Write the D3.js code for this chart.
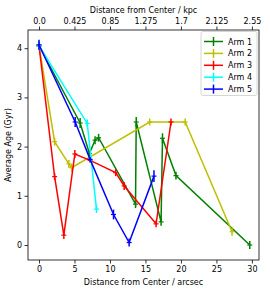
<!DOCTYPE html>
<html><head><meta charset="utf-8">
<script src="https://cdn.jsdelivr.net/npm/d3@7"></script>
<style>
body{margin:0;background:#fff;}
text{font-family:"DejaVu Sans",sans-serif;}
</style></head>
<body><svg id="c" width="270" height="292"></svg>
<script>
const armNames = ["Arm 1","Arm 2","Arm 3","Arm 4","Arm 5"];
const armColors = ["#008000","#bfbf00","#ff0000","#00ffff","#0000ff"];
const arm1X = [0, 5.8, 7.1, 7.9, 8.4, 13.6, 13.7, 17.2, 17.4, 19.3, 29.7];
const arm1Y = [4.05, 2.48, 1.86, 2.13, 2.18, 0.83, 2.5, 0.47, 2.17, 1.41, 0.0];
const arm1E = [0.08, 0.1, 0.07, 0.08, 0.08, 0.08, 0.1, 0.08, 0.1, 0.08, 0.08];
const arm2X = [0, 2.2, 4.2, 4.6, 15.6, 20.6, 27.2];
const arm2Y = [4.05, 2.1, 1.65, 1.57, 2.5, 2.5, 0.27];
const arm2E = [0.08, 0.08, 0.08, 0.08, 0.07, 0.07, 0.08];
const arm3X = [0, 2.2, 3.5, 5.05, 7.2, 10.8, 12.0, 16.5, 18.6];
const arm3Y = [4.05, 1.39, 0.2, 1.85, 1.72, 1.47, 1.2, 0.43, 2.5];
const arm3E = [0.08, 0.07, 0.08, 0.08, 0.05, 0.07, 0.08, 0.07, 0.07];
const arm4X = [0, 6.8, 8.1];
const arm4Y = [4.05, 2.47, 0.73];
const arm4E = [0.08, 0.08, 0.08];
const arm5X = [0, 5.1, 7.2, 10.5, 12.7, 16.2];
const arm5Y = [4.07, 2.5, 1.74, 0.62, 0.05, 1.4];
const arm5E = [0.1, 0.1, 0.05, 0.1, 0.08, 0.12];
const xTicks = [0, 5, 10, 15, 20, 25, 30];
const topTickLabels = ["0.0","0.425","0.85","1.275","1.7","2.125","2.55"];
const yTicks = [0, 1, 2, 3, 4];

const arms = [[arm1X,arm1Y,arm1E],[arm2X,arm2Y,arm2E],[arm3X,arm3Y,arm3E],[arm4X,arm4Y,arm4E],[arm5X,arm5Y,arm5E]]
  .map((a,i)=>({name:armNames[i], color:armColors[i], pts:a[0].map((x,j)=>({x:x,y:a[1][j],e:a[2][j]}))}));

const svg = d3.select("#c");
const L=28, R=259, T=30, B=260;
const x = d3.scaleLinear().domain([-1.55, 31.0]).range([L, R]);
const y = d3.scaleLinear().domain([-0.305, 4.37]).range([B, T]);

const fs = "8px";
const gBot = svg.append("g").attr("transform",`translate(0,${B})`)
  .call(d3.axisBottom(x).tickValues(xTicks).tickFormat(d3.format("d")).tickSize(3.5).tickPadding(2.5));
const gTop = svg.append("g").attr("transform",`translate(0,${T})`)
  .call(d3.axisTop(x).tickValues(xTicks).tickFormat((d,i)=>topTickLabels[i]).tickSize(3.5).tickPadding(2.5));
const gLeft = svg.append("g").attr("transform",`translate(${L},0)`)
  .call(d3.axisLeft(y).tickValues(yTicks).tickFormat(d3.format("d")).tickSize(3.5).tickPadding(2.5));
[gBot,gTop,gLeft].forEach(g=>{
  g.select(".domain").remove();
  g.selectAll("text").style("font-size",fs).style("font-family","DejaVu Sans").attr("fill","#000");
  g.selectAll("line").attr("stroke","#000").attr("stroke-width",0.8);
});

const line = d3.line().x(d=>x(d.x)).y(d=>y(d.y));
const plot = svg.append("g");
arms.forEach(a=>{
  const g = plot.append("g");
  g.append("path").attr("d", line(a.pts)).attr("fill","none").attr("stroke",a.color).attr("stroke-width",1.5);
  g.selectAll("line.eb").data(a.pts).join("line").attr("class","eb")
    .attr("x1",d=>x(d.x)).attr("x2",d=>x(d.x)).attr("y1",d=>y(d.y-d.e)).attr("y2",d=>y(d.y+d.e))
    .attr("stroke",a.color).attr("stroke-width",1.5);
  g.selectAll("line.mk").data(a.pts).join("line").attr("class","mk")
    .attr("x1",d=>x(d.x)-2.5).attr("x2",d=>x(d.x)+2.5).attr("y1",d=>y(d.y)).attr("y2",d=>y(d.y))
    .attr("stroke",a.color).attr("stroke-width",1.2);
});

svg.append("rect").attr("x",L).attr("y",T).attr("width",R-L).attr("height",B-T)
  .attr("fill","none").attr("stroke","#000").attr("stroke-width",0.8);

const lg = svg.append("g");
lg.append("rect").attr("x",201).attr("y",31.5).attr("width",56).attr("height",64).attr("rx",2)
  .attr("fill","rgba(255,255,255,0.8)").attr("stroke","#ccc").attr("stroke-width",0.8);
arms.forEach((a,i)=>{
  const yy = 41.5 + i*11.9;
  lg.append("line").attr("x1",204).attr("x2",223).attr("y1",yy).attr("y2",yy).attr("stroke",a.color).attr("stroke-width",1.5);
  lg.append("line").attr("x1",213.5).attr("x2",213.5).attr("y1",yy-4.5).attr("y2",yy+4.5).attr("stroke",a.color).attr("stroke-width",1.5);
  lg.append("text").attr("x",228).attr("y",yy+3).style("font-size",fs).text(a.name);
});

svg.append("text").attr("x",(L+R)/2).attr("y",284.5).attr("text-anchor","middle").style("font-size",fs).text("Distance from Center / arcsec");
svg.append("text").attr("x",(L+R)/2).attr("y",12.5).attr("text-anchor","middle").style("font-size",fs).text("Distance from Center / kpc");
svg.append("text").attr("transform",`translate(11,${(T+B)/2}) rotate(-90)`).attr("text-anchor","middle").style("font-size",fs).text("Average Age (Gyr)");
</script></body></html>
